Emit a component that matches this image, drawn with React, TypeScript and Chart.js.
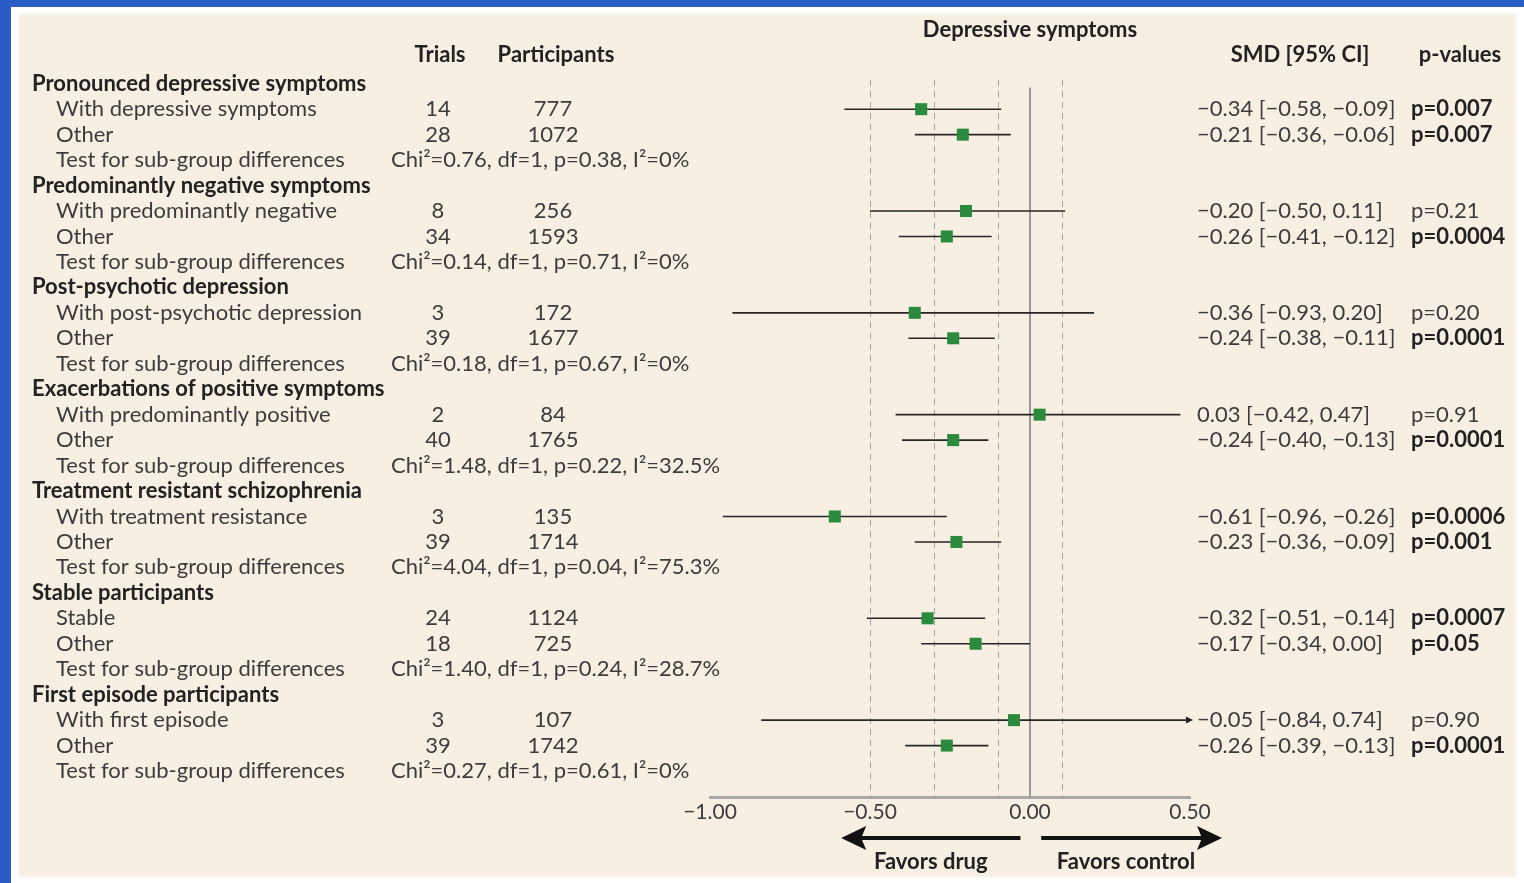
import React, { useEffect, useRef } from "react";
import { Chart, registerables } from "chart.js";

Chart.register(...registerables);

// Sub-group analyses of depressive symptoms (standardised mean differences)
const groupTitles = [
  "Pronounced depressive symptoms",
  "Predominantly negative symptoms",
  "Post-psychotic depression",
  "Exacerbations of positive symptoms",
  "Treatment resistant schizophrenia",
  "Stable participants",
  "First episode participants",
];
const subgroupLabels = [
  "With depressive symptoms", "Other",
  "With predominantly negative", "Other",
  "With post-psychotic depression", "Other",
  "With predominantly positive", "Other",
  "With treatment resistance", "Other",
  "Stable", "Other",
  "With first episode", "Other",
];
const trials = [14, 28, 8, 34, 3, 39, 2, 40, 3, 39, 24, 18, 3, 39];
const participants = [777, 1072, 256, 1593, 172, 1677, 84, 1765, 135, 1714, 1124, 725, 107, 1742];
const smd = [-0.34, -0.21, -0.2, -0.26, -0.36, -0.24, 0.03, -0.24, -0.61, -0.23, -0.32, -0.17, -0.05, -0.26];
const ciLow = [-0.58, -0.36, -0.5, -0.41, -0.93, -0.38, -0.42, -0.4, -0.96, -0.36, -0.51, -0.34, -0.84, -0.39];
const ciHigh = [-0.09, -0.06, 0.11, -0.12, 0.2, -0.11, 0.47, -0.13, -0.26, -0.09, -0.14, 0.0, 0.74, -0.13];
const pValues = ["0.007", "0.007", "0.21", "0.0004", "0.20", "0.0001", "0.91", "0.0001", "0.0006", "0.001", "0.0007", "0.05", "0.90", "0.0001"];
const chiSquared = ["0.76", "0.14", "0.18", "1.48", "4.04", "1.40", "0.27"];
const subgroupP = ["0.38", "0.71", "0.67", "0.22", "0.04", "0.24", "0.61"];
const iSquared = ["0", "0", "0", "32.5", "75.3", "28.7", "0"];
const xTicks = [-1, -0.5, 0, 0.5];
const referenceLines = [-0.5, -0.3, -0.1, 0.1];

const X_MIN = -1;
const X_MAX = 0.5;

const FONT = "Lato, 'Open Sans', sans-serif";
const FONT_SIZE = 22;
const TEXT = "#3c3c3c";
const DARK = "#222222";
const GREEN = "#2b8a3e";

const fmt = (v: number) => (v < -0.0001 ? "\u2212" : "") + Math.abs(v).toFixed(2);
// each group occupies four rows: title, two sub-groups, test for differences
const rowOfSubgroup = (i: number) => Math.floor(i / 2) * 4 + 1 + (i % 2);

const tablePlugin = {
  id: "forestTable",
  beforeDatasetsDraw(chart: any) {
    const { ctx, scales } = chart;
    const x = scales.x;
    const y = scales.y;
    const bottom = chart.chartArea.bottom;
    ctx.save();
    ctx.strokeStyle = "#a0a0a0";
    ctx.lineWidth = 1;
    ctx.setLineDash([6, 5]);
    referenceLines.forEach((v) => {
      const px = Math.round(x.getPixelForValue(v)) + 0.5;
      ctx.beginPath();
      ctx.moveTo(px, y.getPixelForValue(-0.15));
      ctx.lineTo(px, bottom);
      ctx.stroke();
    });
    ctx.setLineDash([]);
    ctx.strokeStyle = "#9a9a9a";
    ctx.lineWidth = 2;
    const zx = Math.round(x.getPixelForValue(0));
    ctx.beginPath();
    ctx.moveTo(zx, y.getPixelForValue(0.15));
    ctx.lineTo(zx, bottom);
    ctx.stroke();
    ctx.restore();
  },
  afterDatasetsDraw(chart: any) {
    const { ctx, scales } = chart;
    const x = scales.x;
    const y = scales.y;
    ctx.save();
    // truncated confidence intervals get an arrow head at the axis limit
    ciHigh.forEach((hi, i) => {
      if (hi <= X_MAX) return;
      const px = x.getPixelForValue(X_MAX) + 3;
      const py = y.getPixelForValue(rowOfSubgroup(i));
      ctx.fillStyle = DARK;
      ctx.beginPath();
      ctx.moveTo(px, py);
      ctx.lineTo(px - 7, py - 3.5);
      ctx.lineTo(px - 7, py + 3.5);
      ctx.closePath();
      ctx.fill();
    });

    const bold = `bold ${FONT_SIZE}px ${FONT}`;
    const regular = `${FONT_SIZE}px ${FONT}`;
    ctx.textBaseline = "middle";

    // column headers
    ctx.fillStyle = DARK;
    ctx.font = bold;
    ctx.textAlign = "center";
    ctx.fillText("Depressive symptoms", x.getPixelForValue(0), 30);
    ctx.fillText("Trials", 440, 55);
    ctx.fillText("Participants", 556, 55);
    ctx.fillText("SMD [95% CI]", 1300, 55);
    ctx.fillText("p-values", 1460, 55);

    groupTitles.forEach((title, g) => {
      const r0 = g * 4;
      ctx.textAlign = "left";
      ctx.font = bold;
      ctx.fillStyle = DARK;
      ctx.fillText(title, 32, y.getPixelForValue(r0));
      ctx.font = regular;
      ctx.fillStyle = TEXT;
      const testY = y.getPixelForValue(r0 + 3);
      ctx.fillText("Test for sub-group differences", 56, testY);
      ctx.fillText(
        `Chi\u00b2=${chiSquared[g]}, df=1, p=${subgroupP[g]}, I\u00b2=${iSquared[g]}%`,
        391,
        testY
      );
    });

    subgroupLabels.forEach((label, i) => {
      const py = y.getPixelForValue(rowOfSubgroup(i));
      ctx.font = regular;
      ctx.fillStyle = TEXT;
      ctx.textAlign = "left";
      ctx.fillText(label, 56, py);
      ctx.textAlign = "center";
      ctx.fillText(String(trials[i]), 438, py);
      ctx.fillText(String(participants[i]), 553, py);
      ctx.textAlign = "left";
      ctx.fillText(`${fmt(smd[i])} [${fmt(ciLow[i])}, ${fmt(ciHigh[i])}]`, 1197, py);
      const significant = parseFloat(pValues[i]) <= 0.05;
      ctx.font = significant ? bold : regular;
      ctx.fillStyle = significant ? DARK : TEXT;
      ctx.fillText(`p=${pValues[i]}`, 1411, py);
    });

    // direction arrows under the axis
    const arrow = (from: number, to: number, py: number) => {
      const x1 = x.getPixelForValue(from);
      const x2 = x.getPixelForValue(to);
      const dir = Math.sign(x2 - x1);
      ctx.strokeStyle = "#111";
      ctx.fillStyle = "#111";
      ctx.lineWidth = 4;
      ctx.beginPath();
      ctx.moveTo(x1, py);
      ctx.lineTo(x2 - dir * 18, py);
      ctx.stroke();
      ctx.beginPath();
      ctx.moveTo(x2, py);
      ctx.lineTo(x2 - dir * 25, py - 12);
      ctx.lineTo(x2 - dir * 20, py);
      ctx.lineTo(x2 - dir * 25, py + 12);
      ctx.closePath();
      ctx.fill();
    };
    arrow(-0.03, -0.59, 838);
    arrow(0.035, 0.6, 838);
    ctx.font = bold;
    ctx.fillStyle = DARK;
    ctx.textAlign = "center";
    ctx.fillText("Favors drug", x.getPixelForValue(-0.31), 862);
    ctx.fillText("Favors control", x.getPixelForValue(0.3), 862);
    ctx.restore();
  },
};

export default function App() {
  const canvasRef = useRef<HTMLCanvasElement | null>(null);

  useEffect(() => {
    const canvas = canvasRef.current;
    if (!canvas) return;
    const markerData = smd.map((v, i) => ({ x: v, y: rowOfSubgroup(i) }));
    const ciSets = smd.map((_, i) => ({
      type: "scatter" as const,
      data: [
        { x: ciLow[i], y: rowOfSubgroup(i) },
        { x: Math.min(ciHigh[i], X_MAX), y: rowOfSubgroup(i) },
      ],
      showLine: true,
      borderColor: "#262626",
      borderWidth: 1.6,
      pointRadius: 0,
      order: 2,
    }));
    const chart = new Chart(canvas, {
      type: "scatter",
      data: {
        datasets: [
          {
            data: markerData,
            pointStyle: "rect",
            pointRadius: 8.5,
            backgroundColor: GREEN,
            borderWidth: 0,
            order: 1,
          },
          ...ciSets,
        ],
      },
      options: {
        animation: false,
        responsive: false,
        devicePixelRatio: 1,
        events: [],
        layout: { padding: { left: 710, right: 1524 - 1190, top: 71, bottom: 46 } },
        plugins: { legend: { display: false }, tooltip: { enabled: false } },
        scales: {
          x: {
            type: "linear",
            min: X_MIN,
            max: X_MAX,
            afterBuildTicks: (scale: any) => {
              scale.ticks = xTicks.map((v) => ({ value: v }));
            },
            afterFit: (scale: any) => {
              scale.height = 40;
            },
            grid: { display: false, drawTicks: false },
            border: { display: true, color: "#a8a8a8", width: 3 },
            ticks: {
              padding: 3,
              color: TEXT,
              font: { family: FONT, size: 21 },
              maxRotation: 0,
              callback: (v: any) => fmt(Number(v)),
            },
          },
          y: {
            type: "linear",
            reverse: true,
            min: -0.5,
            max: 28.02,
            display: false,
          },
        },
      },
      plugins: [tablePlugin],
    });
    return () => chart.destroy();
  }, []);

  return (
    <div style={{ position: "fixed", left: 0, top: 0, width: 1524, height: 883, background: "#2b5bc4", overflow: "hidden" }}>
      <div style={{ position: "absolute", left: 11, top: 7, right: 0, bottom: 0, background: "#ffffff" }} />
      <div
        style={{
          position: "absolute",
          left: 20,
          top: 15,
          width: 1495,
          height: 861,
          background: "#f7f0e2",
          boxShadow: "0 0 3px 1px #f3ece6",
        }}
      />
      <canvas ref={canvasRef} width={1524} height={883} style={{ position: "absolute", left: 0, top: 0, display: "block" }} />
    </div>
  );
}
